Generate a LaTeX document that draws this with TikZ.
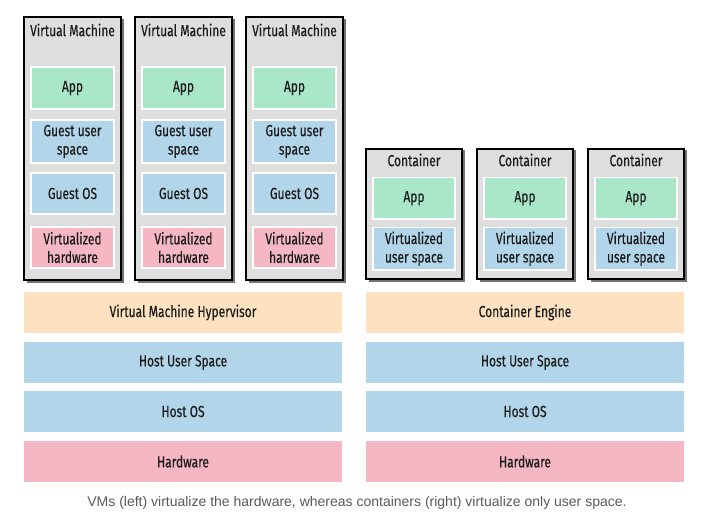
\documentclass[tikz,border=0pt]{standalone}
\usepackage{fontspec}
\setmainfont{Fira Sans}[FakeStretch=0.75,FakeBold=0.3]
\newfontfamily\capfont{Liberation Sans}
\definecolor{appg}{HTML}{A9E6CA}
\definecolor{blu}{HTML}{B3D5EA}
\definecolor{pnk}{HTML}{F4B7C3}
\definecolor{org}{HTML}{FDE2C1}
\definecolor{gry}{HTML}{DEDEDF}
\definecolor{txt}{HTML}{1C1C1C}
\definecolor{captxt}{HTML}{5A5A5A}
\begin{document}
\begin{tikzpicture}[x=1pt,y=-1pt,
  outerbox/.style={draw=black,line width=2pt,fill=gry},
  shadowbox/.style={fill=black!55},
  inner/.style={draw=white,line width=1.5pt,text=txt,font=\fontsize{16}{18.5}\selectfont,align=center,inner sep=0pt},
  bar/.style={text=txt,font=\fontsize{16}{18}\selectfont,inner sep=0pt},
  ttl/.style={text=txt,font=\fontsize{16}{18}\selectfont,inner sep=0pt}]
\useasboundingbox (0,0) rectangle (720,524);
\fill[white] (0,0) rectangle (720,524);
% VMs
\foreach \i/\x in {1/24,2/135,3/246}{
  \fill[shadowbox] (\x+2.5,19.5) rectangle (\x+99.5,282.5);
  \draw[outerbox] (\x,17) rectangle (\x+97,280);
  \node[ttl] (vmt\i) at (\x+48.5,30) {Virtual Machine};
  \path[inner,fill=appg] (\x+7,67) rectangle node (vmapp\i) {App} (\x+90,109);
  \path[inner,fill=blu] (\x+7,120) rectangle node (vmgus\i) {Guest user\\space} (\x+90,163);
  \path[inner,fill=blu] (\x+7,173) rectangle node (vmgos\i) {Guest OS} (\x+90,214);
  \path[inner,fill=pnk] (\x+7,227) rectangle node (vmvh\i) {Virtualized\\hardware} (\x+90,268);
}
% Containers
\foreach \i/\x in {1/366,2/477,3/588}{
  \fill[shadowbox] (\x+2.5,150.5) rectangle (\x+98.5,281.5);
  \draw[outerbox] (\x,149) rectangle (\x+96,279);
  \node[ttl] (ct\i) at (\x+48,160) {Container};
  \path[inner,fill=appg] (\x+7,177.5) rectangle node (capp\i) {App} (\x+89,219);
  \path[inner,fill=blu] (\x+7,227.5) rectangle node (cvus\i) {Virtualized\\user space} (\x+89,270);
}
% Bars
\path[fill=org] (24,292) rectangle node[bar] (hyp) {Virtual Machine Hypervisor} (342,333);
\path[fill=blu] (24,342) rectangle node[bar] (hus1) {Host User Space} (342,383);
\path[fill=blu] (24,391) rectangle node[bar] (hos1) {Host OS} (342,432);
\path[fill=pnk] (24,441) rectangle node[bar] (hw1) {Hardware} (342,482);
\path[fill=org] (366,292) rectangle node[bar] (ce) {Container Engine} (684,333);
\path[fill=blu] (366,342) rectangle node[bar] (hus2) {Host User Space} (684,383);
\path[fill=blu] (366,391) rectangle node[bar] (hos2) {Host OS} (684,432);
\path[fill=pnk] (366,441) rectangle node[bar] (hw2) {Hardware} (684,482);
\node[text=captxt,font=\capfont\fontsize{14}{14}\selectfont,inner sep=0pt] (cap) at (357,503) {VMs (left) virtualize the hardware, whereas containers (right) virtualize only user space.};
\end{tikzpicture}
\end{document}
